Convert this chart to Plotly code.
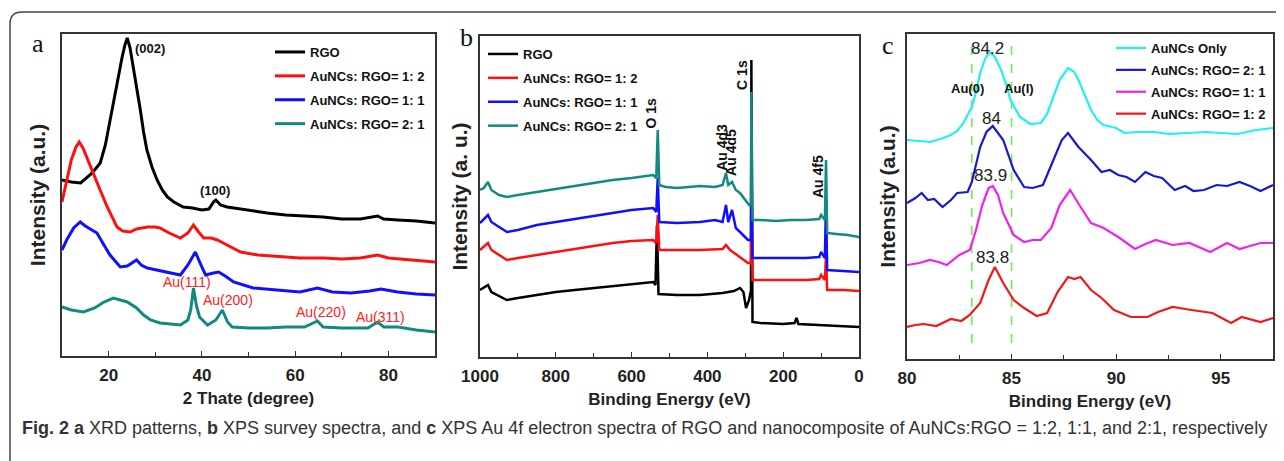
import plotly.graph_objects as go

W, H = 1284, 461
OFF = 8  # page body margin of the browser

# ---------------- Panel a : XRD patterns ----------------
xrd_theta_rgo = [10, 12, 14, 16, 17, 18.2, 19.3, 20.3, 21.1, 21.8, 22.9, 23.5, 24, 24.6, 25.3, 26, 26.8,
                 27.5, 28.2, 29.3, 30.4, 31.5, 32.6, 34, 36, 38, 40, 41.5, 42.5, 43, 44, 45.4, 48, 51, 54,
                 58, 62, 66, 70, 74, 77.7, 79, 82, 86, 90]
xrd_rgo = [176, 174, 173, 181, 186, 193, 211, 236, 256, 273, 299, 311, 318, 308, 289, 268, 246,
           224, 206, 189, 176, 166, 159, 154, 149, 148, 146, 147, 154, 156, 151, 149, 147, 145, 143,
           141, 140, 139, 137, 137, 140, 137, 136, 135, 133]

xrd_theta_12 = [10, 11, 12, 13, 13.7, 14.5, 15.5, 16.7, 18, 19.7, 20.3, 21.8, 23, 24.6, 26, 28.3, 30, 31,
                33, 35.4, 37, 38.2, 39.3, 40.4, 42, 43.3, 45, 48.3, 52, 56, 61, 66, 70, 74, 77.7, 80, 85, 90]
xrd_12 = [154, 176, 196, 209, 214, 208, 196, 183, 168, 149, 143, 129, 125, 124, 127, 129, 129, 128,
          123, 118, 123, 131, 124, 118, 118, 116, 112, 104, 101, 100, 98, 98, 97, 98, 101, 98, 96, 94]

xrd_theta_11 = [10, 11, 12.5, 13.9, 15, 17.5, 19, 20.3, 22.5, 24, 26, 27, 28.3, 30.5, 32.6, 35.4, 37,
                38.6, 39.8, 40.8, 42.5, 43.6, 45, 46.8, 51, 56, 61, 64.8, 68, 72, 76, 78.4, 82, 86, 90]
xrd_11 = [106, 116, 128, 134, 130, 123, 111, 101, 89, 90, 96, 91, 88, 86, 84, 81, 91,
          104, 91, 81, 83, 84, 80, 74, 68, 66, 64, 68, 64, 63, 65, 67, 64, 62, 61]

xrd_theta_21 = [10, 12, 14.6, 17, 19, 21, 24, 26, 27.5, 29, 31, 33, 35.4, 37, 37.6, 38.2, 38.8, 39.5,
                41.2, 43, 44.4, 45.5, 46.5, 50, 54, 58, 62, 64.8, 66, 70, 75.6, 77.7, 79, 82, 86, 90]
xrd_21 = [49, 46, 44, 48, 54, 58, 54, 48, 41, 36, 33, 32, 31, 36, 46, 68, 51, 39,
          31, 36, 46, 34, 29, 28, 28, 29, 29, 35, 29, 28, 28, 34, 29, 29, 26, 24]

xrd_peak_labels = ["(002)", "(100)"]
xrd_peak_pos = [(28.9, 308), (42.9, 166)]
au_xrd_labels = ["Au(111)", "Au(200)", "Au(220)", "Au(311)"]
au_xrd_pos = [(36.9, 74), (45.7, 56), (65.5, 44), (78.4, 39)]

# ---------------- Panel b : XPS survey ----------------
xps_e_21 = [1000, 990, 979, 970, 950, 929, 900, 850, 800, 750, 700, 650, 600, 560, 543, 535, 531, 527,
            510, 480, 450, 420, 380, 360, 351, 345, 335, 325, 314, 300, 290, 285, 284, 281, 260, 220,
            180, 140, 105, 100, 90, 87, 84, 60, 30, 0]
xps_21 = [167, 169, 175, 167, 162, 160, 162, 165, 168, 171, 174, 177, 179, 181, 182, 179, 227, 172,
          170, 169, 170, 171, 170, 172, 184, 172, 175, 167, 164, 157, 152, 152, 265, 137, 137, 136,
          137, 137, 138, 142, 137, 197, 124, 123, 122, 120]

xps_e_11 = [1000, 979, 970, 929, 900, 850, 800, 750, 700, 650, 600, 543, 535, 531, 527, 480, 420, 380,
            360, 351, 345, 335, 325, 314, 293, 285, 284, 281, 200, 140, 105, 100, 90, 87, 84, 40, 0]
xps_11 = [134, 142, 135, 125, 127, 132, 135, 138, 141, 144, 147, 149, 145, 179, 135, 134, 135, 137,
          135, 152, 135, 147, 129, 125, 117, 117, 207, 99, 99, 99, 100, 105, 99, 157, 87, 86, 85]

xps_e_12 = [1000, 979, 970, 929, 900, 850, 800, 750, 700, 650, 600, 543, 535, 531, 527, 480, 420, 360,
            351, 340, 314, 293, 285, 284, 281, 200, 140, 105, 100, 90, 87, 84, 40, 0]
xps_12 = [107, 114, 107, 97, 99, 102, 105, 108, 111, 114, 116, 117, 114, 142, 107, 107, 107, 108,
          112, 107, 100, 94, 94, 177, 77, 77, 77, 78, 82, 77, 102, 67, 67, 66]

xps_e_rgo = [1000, 979, 970, 929, 900, 850, 800, 750, 700, 650, 600, 543, 537, 533, 529, 480, 420, 360,
             330, 314, 305, 298, 290, 285, 284, 281, 260, 200, 170, 165, 160, 100, 50, 0]
xps_rgo = [67, 72, 65, 57, 59, 62, 65, 67, 69, 71, 73, 75, 72, 132, 63, 62, 62, 64,
           66, 69, 65, 49, 57, 67, 297, 35, 34, 33, 34, 39, 33, 32, 31, 30]

xps_line_labels = ["O 1s", "C 1s", "Au 4d3", "Au 4d5", "Au 4f5"]
xps_line_pos = [(550, 244), (309, 282), (362, 210), (338, 205), (108, 180)]

# ---------------- Panel c : XPS Au 4f ----------------
au4f_e_only = [80, 80.5, 81.1, 81.6, 82.1, 82.4, 82.7, 83.1, 83.3, 83.5, 83.75, 83.96, 84.2, 84.5, 84.75,
               84.95, 85.2, 85.4, 85.9, 86.4, 86.7, 86.9, 87.3, 87.7, 88.0, 88.2, 88.5, 88.8, 89.1, 89.4,
               90.0, 90.4, 91.0, 91.8, 92.5, 93.5, 94.3, 95.0, 95.8, 96.7, 97.5]
au4f_only = [219, 218, 217, 220, 224, 228, 236, 252, 267, 286, 301, 307, 302, 289, 274,
             259, 249, 242, 235, 236, 245, 256, 279, 291, 287, 279, 264, 249, 239, 234,
             231, 226, 227, 227, 225, 226, 227, 226, 225, 229, 231]

au4f_e_21 = [80, 80.4, 80.7, 81.0, 81.3, 81.7, 82.1, 82.4, 82.9, 83.1, 83.5, 83.8, 84.1, 84.6, 85.1, 85.6,
             86.0, 86.5, 87.0, 87.4, 87.7, 88.2, 88.8, 89.3, 89.7, 90.1, 90.5, 90.9, 91.4, 91.8, 92.2,
             92.8, 93.3, 93.7, 94.2, 94.8, 95.3, 95.9, 96.4, 96.9, 97.5]
au4f_21 = [156, 161, 166, 159, 160, 152, 159, 166, 167, 177, 212, 227, 233, 219, 189, 172,
           171, 174, 199, 219, 226, 212, 199, 187, 189, 184, 182, 177, 187, 183, 181,
           169, 173, 168, 169, 174, 173, 177, 173, 168, 174]

au4f_e_11 = [80, 80.6, 81.1, 81.5, 81.9, 82.5, 83.0, 83.3, 83.6, 83.9, 84.1, 84.35, 84.6, 85.1, 85.6, 86.0,
             86.4, 86.9, 87.3, 87.8, 88.3, 88.8, 89.4, 90.1, 90.9, 91.4, 91.9, 92.7, 93.5, 94.5, 95.3,
             95.9, 96.4, 96.9, 97.5]
au4f_11 = [94, 96, 99, 97, 94, 104, 109, 129, 154, 171, 173, 164, 146, 124, 117, 119,
           119, 131, 154, 169, 152, 136, 131, 122, 110, 115, 119, 114, 116, 107, 116,
           110, 113, 116, 116]

au4f_e_12 = [80, 80.4, 80.8, 81.4, 82.1, 82.6, 83.0, 83.5, 83.9, 84.2, 84.6, 85.1, 85.6, 86.2, 86.7, 87.2,
             87.7, 88.0, 88.3, 88.8, 89.3, 89.9, 90.7, 91.5, 92.0, 92.7, 93.6, 94.6, 95.5, 96.0, 96.9, 97.5]
au4f_12 = [32, 34, 35, 33, 40, 38, 44, 56, 79, 92, 76, 59, 51, 43, 46, 67,
           82, 80, 82, 69, 61, 49, 42, 42, 47, 52, 49, 46, 36, 42, 37, 41]

au_ref_energies = [83.1, 85.0]
au_ref_span = [16, 322]
au_ref_labels = ["Au(0)", "Au(I)"]
au_ref_label_pos = [(82.9, 271), (85.35, 271)]
be_labels = ["84.2", "84", "83.9", "83.8"]
be_label_pos = [(83.85, 311), (84.04, 241), (84.0, 184), (84.09, 102)]

legend_names_ab = ["RGO", "AuNCs: RGO= 1: 2", "AuNCs: RGO= 1: 1", "AuNCs: RGO= 2: 1"]
legend_names_c = ["AuNCs Only", "AuNCs: RGO= 2: 1", "AuNCs: RGO= 1: 1", "AuNCs: RGO= 1: 2"]

# ---------------- styling ----------------
SANS = "Liberation Sans, Arial, sans-serif"
SERIF = "Liberation Serif, Times New Roman, serif"
AXC = "#333333"

def px_x(p):
    return (p - OFF) / W

def px_y(p):
    return 1 - (p - OFF) / H

fig = go.Figure()

cols_ab = ["#000000", "#ff1010", "#1010ff", "#138a80"]
for name, xs, ys, col in zip(legend_names_ab,
                             [xrd_theta_rgo, xrd_theta_12, xrd_theta_11, xrd_theta_21],
                             [xrd_rgo, xrd_12, xrd_11, xrd_21], cols_ab):
    fig.add_trace(go.Scatter(x=xs, y=ys, mode="lines", name=name, line=dict(color=col, width=3),
                             xaxis="x", yaxis="y", legend="legend", legendgroup="a" + name))

for name, xs, ys, col in zip(legend_names_ab,
                             [xps_e_rgo, xps_e_12, xps_e_11, xps_e_21],
                             [xps_rgo, xps_12, xps_11, xps_21], cols_ab):
    fig.add_trace(go.Scatter(x=xs, y=ys, mode="lines", name=name, line=dict(color=col, width=2.5),
                             xaxis="x2", yaxis="y2", legend="legend2", legendgroup="b" + name))

for e in au_ref_energies:
    fig.add_trace(go.Scatter(x=[e, e], y=au_ref_span, mode="lines", showlegend=False,
                             line=dict(color="#66ee44", width=1.5, dash="dash"),
                             xaxis="x3", yaxis="y3", hoverinfo="skip"))

cols_c = ["#22f0f0", "#1818d0", "#f020f0", "#f01818"]
for name, xs, ys, col in zip(legend_names_c,
                             [au4f_e_only, au4f_e_21, au4f_e_11, au4f_e_12],
                             [au4f_only, au4f_21, au4f_11, au4f_12], cols_c):
    fig.add_trace(go.Scatter(x=xs, y=ys, mode="lines", name=name, line=dict(color=col, width=2.2),
                             xaxis="x3", yaxis="y3", legend="legend3", legendgroup="c" + name))

tickfont = dict(family=SANS, size=17, color="#222", weight="bold")
titlefont = dict(family=SANS, size=17, color="#222", weight="bold")
ytitlefont = dict(family=SANS, size=21, color="#222", weight="bold")

def xaxis(dom, rng, dtick, minor, title, tick0=0):
    return dict(domain=dom, range=rng, showline=True, linecolor=AXC, linewidth=1.5, mirror=True,
                ticks="inside", ticklen=5, tickcolor=AXC, tickwidth=1.2, dtick=dtick, tick0=tick0,
                minor=dict(ticks="inside", dtick=minor, ticklen=4, tickcolor=AXC, tickwidth=1.2),
                showgrid=False, zeroline=False, tickfont=tickfont, ticklabelstandoff=3,
                automargin=False,
                title=dict(text=title, font=titlefont, standoff=8), fixedrange=True)

def yaxis(dom, rng, anchor, title, standoff):
    return dict(domain=dom, range=rng, anchor=anchor, showline=True, linecolor=AXC, linewidth=1.5,
                mirror=True, ticks="", showticklabels=False, showgrid=False, zeroline=False,
                automargin=False,
                title=dict(text=title, font=ytitlefont, standoff=standoff), fixedrange=True)

legfont = dict(family=SANS, size=13, color="#111", weight="bold")
fig.update_layout(
    width=W, height=H, margin=dict(l=0, r=0, t=0, b=0, autoexpand=False),
    paper_bgcolor="white", plot_bgcolor="white",
    xaxis=xaxis([px_x(62), px_x(435)], [10, 90], 20, 10, "2 Thate (degree)"),
    yaxis=yaxis([px_y(356), px_y(34)], [0, 322], "x", "Intensity (a.u.)", 9),
    xaxis2=dict(xaxis([px_x(480), px_x(859)], [1000, 0], 200, 100, "Binding Energy (eV)"), anchor="y2"),
    yaxis2=yaxis([px_y(357), px_y(36)], [0, 321], "x2", "Intensity (a. u.)", 5),
    xaxis3=dict(xaxis([px_x(907), px_x(1273)], [80, 97.5], 5, 2.5, "Binding Energy (eV)"), anchor="y3"),
    yaxis3=yaxis([px_y(359), px_y(34)], [0, 325], "x3", "Intensity (a.u.)", 4),
    legend=dict(x=px_x(270), y=px_y(37), xanchor="left", yanchor="top", bgcolor="rgba(0,0,0,0)",
                font=legfont, tracegroupgap=4),
    legend2=dict(x=px_x(483), y=px_y(39), xanchor="left", yanchor="top", bgcolor="rgba(0,0,0,0)",
                 font=legfont, tracegroupgap=4),
    legend3=dict(x=px_x(1111), y=px_y(33), xanchor="left", yanchor="top", bgcolor="rgba(0,0,0,0)",
                 font=legfont, tracegroupgap=2),
)

ann = []
for t, (xp, yp) in zip(["a", "b", "c"], [(38, 44), (466, 38), (888, 45)]):
    ann.append(dict(text=t, x=px_x(xp), y=px_y(yp), xref="paper", yref="paper", showarrow=False,
                    font=dict(family=SERIF, size=26, color="#111"), xanchor="center", yanchor="middle"))
for t, (x, y) in zip(xrd_peak_labels, xrd_peak_pos):
    ann.append(dict(text=t, x=x, y=y, xref="x", yref="y", showarrow=False,
                    font=dict(family=SANS, size=13, color="#111", weight="bold")))
for t, (x, y) in zip(au_xrd_labels, au_xrd_pos):
    ann.append(dict(text=t, x=x, y=y, xref="x", yref="y", showarrow=False,
                    font=dict(family=SANS, size=14, color="#ff2020")))
for t, (x, y) in zip(xps_line_labels, xps_line_pos):
    ann.append(dict(text=t, x=x, y=y, xref="x2", yref="y2", showarrow=False, textangle=-90,
                    font=dict(family=SANS, size=14, color="#111", weight="bold")))
for t, (x, y) in zip(au_ref_labels, au_ref_label_pos):
    ann.append(dict(text=t, x=x, y=y, xref="x3", yref="y3", showarrow=False,
                    font=dict(family=SANS, size=13, color="#111", weight="bold")))
for t, (x, y) in zip(be_labels, be_label_pos):
    ann.append(dict(text=t, x=x, y=y, xref="x3", yref="y3", showarrow=False,
                    font=dict(family=SANS, size=17, color="#222")))
ann.append(dict(text="<b>Fig. 2 a</b> XRD patterns, <b>b</b> XPS survey spectra, and <b>c</b> XPS Au 4f electron "
                     "spectra of RGO and nanocomposite of AuNCs:RGO = 1:2, 1:1, and 2:1, respectively",
                x=px_x(20), y=px_y(428), xref="paper", yref="paper", showarrow=False, xanchor="left",
                yanchor="middle", font=dict(family=SANS, size=18, color="#333")))
fig.update_layout(annotations=ann)

fig.add_shape(type="path", xref="paper", yref="paper",
              path=f"M {px_x(10)},{px_y(475)} L {px_x(10)},{px_y(24)} Q {px_x(10)},{px_y(12)} {px_x(22)},{px_y(12)} L {px_x(1300)},{px_y(12)}",
              line=dict(color="#444", width=1.5))

fig.write_html("out.html")
